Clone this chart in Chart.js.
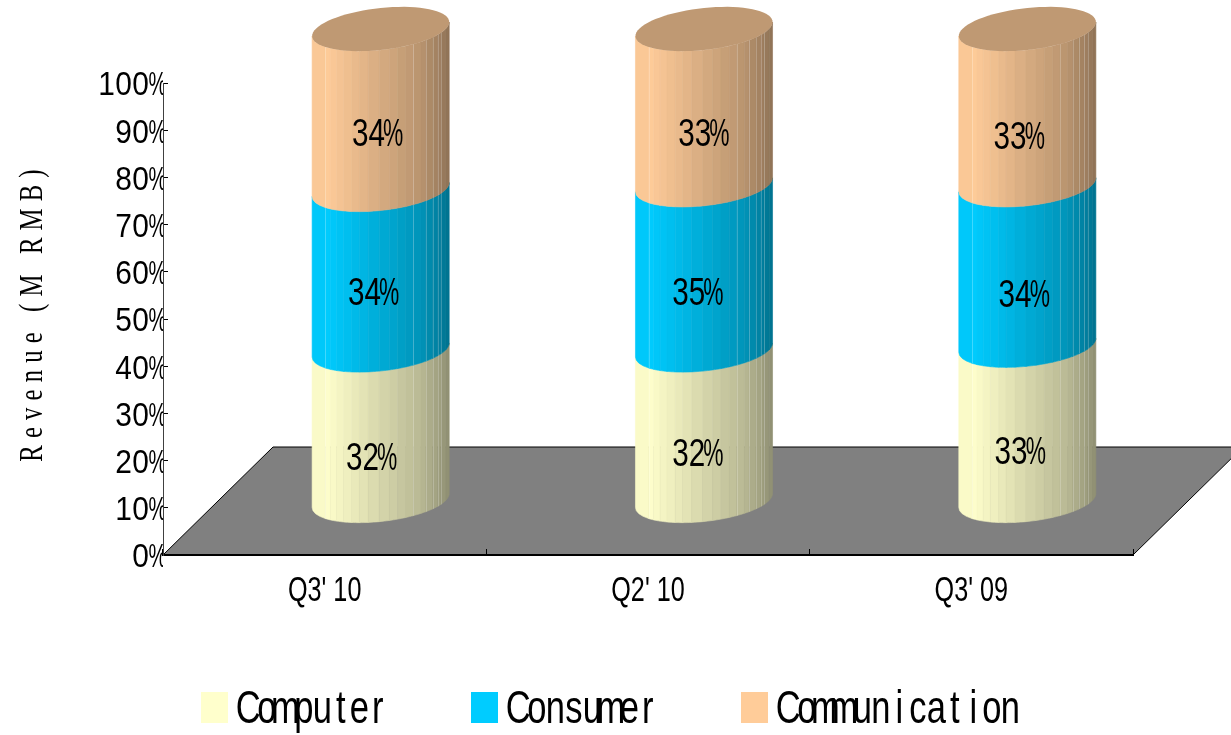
<!DOCTYPE html>
<html>
<head>
<meta charset="utf-8">
<title>Revenue by application</title>
<script src="https://cdn.jsdelivr.net/npm/chart.js@4"></script>
<style>
html, body { margin: 0; padding: 0; background: #fff; overflow: hidden; }
canvas { display: block; }
</style>
</head>
<body>
<canvas id="revenueChart" width="1231" height="735"></canvas>
<script>
// Chart values
const categories = ["Q3' 10", "Q2' 10", "Q3' 09"];
const computer = [32, 32, 33];
const consumer = [34, 35, 34];
const communication = [34, 33, 33];
const yTicks = [0, 10, 20, 30, 40, 50, 60, 70, 80, 90, 100];

// 3D look of the plot
const DEPTH_X = 110;
const DEPTH_Y = 108;
const SHIFT_X = 56;
const ELLIPSE_B = 21;
const ELLIPSE_SKEW = 7;
const STRIP_EDGES = [0, 0.097, 0.133, 0.18, 0.23, 0.29, 0.345, 0.41, 0.49, 0.563, 0.624, 0.684, 0.738, 0.794, 0.83, 0.879, 0.915, 0.939, 0.976, 1];
const SEAMS = [0.097, 0.738, 0.83, 0.879, 0.915, 0.939];
const LABEL_NUDGE = [[-10, 34], [-8, 25], [-4, 26], [-7, 30], [-7, 27], [-1, 29], [-8, 31], [-4, 32], [-9, 32]];

// Text settings by font size: horizontal squeeze, fixed cell width, vertical shift
const FONT = '"Liberation Sans"';
const TEXT_STYLES = {
    46: { squash: 0.75, cell: 18.5, dy: 2 },
    38: { squash: 0.78, cell: 16.5, dy: 0 },
    34: { squash: 0.88, cell: 17, dy: 3 },
    35: { squash: 0.72, dy: -3 }
};
const PERCENT_SQUASH = 0.6;

const canvas = document.getElementById('revenueChart');
const ctx = canvas.getContext('2d');

function styleNow() {
    const size = parseFloat(ctx.font.match(/([\d.]+)px/)[1]);
    return TEXT_STYLES[size] || { squash: 1 };
}

// The original font is a narrow one with fixed width cells, so the letters overlap or leave gaps
const rawFillText = ctx.fillText.bind(ctx);
const rawMeasureText = ctx.measureText.bind(ctx);
ctx.fillText = function(text, x, y) {
    const style = styleNow();
    text = String(text);
    ctx.save();
    ctx.translate(x, y + (style.dy || 0));
    if (ctx.font.includes('Serif')) {
        // rotated axis title
        ctx.translate(7, 0);
        ctx.scale(0.75, 1);
        ctx.letterSpacing = '9.5px';
        rawFillText(text, 0, 0);
    } else if (style.cell) {
        const total = text.length * style.cell;
        let left = 0;
        if (ctx.textAlign === 'right') left = -total;
        if (ctx.textAlign === 'center') left = -total / 2;
        ctx.textAlign = 'center';
        for (let i = 0; i < text.length; i++) {
            ctx.save();
            ctx.translate(left + (i + 0.5) * style.cell, 0);
            ctx.scale(text[i] === '%' ? PERCENT_SQUASH : style.squash, 1);
            rawFillText(text[i], 0, 0);
            ctx.restore();
        }
    } else {
        ctx.scale(style.squash, 1);
        rawFillText(text, 0, 0);
    }
    ctx.restore();
};
ctx.measureText = function(text) {
    const style = styleNow();
    if (style.cell) return { width: String(text).length * style.cell };
    return { width: rawMeasureText(text).width * style.squash };
};

function shade(hex, k) {
    const n = parseInt(hex.slice(1), 16);
    const r = Math.round(((n >> 16) & 255) * k);
    const g = Math.round(((n >> 8) & 255) * k);
    const b = Math.round((n & 255) * k);
    return `rgb(${r},${g},${b})`;
}

// Light comes from the left, u goes from 0 (left edge) to 1 (right edge)
function brightness(u) {
    if (u < 0.1) return 0.96 + 0.4 * u;
    if (u < 0.8) return 1 - (u - 0.1) * 0.4;
    return 0.72 - (u - 0.8) * 0.8;
}

function ellipsePoint(cx, cy, a, t) {
    return [cx + a * Math.cos(t), cy - ELLIPSE_SKEW * Math.cos(t) + ELLIPSE_B * Math.sin(t)];
}

function angleOf(u) {
    return Math.acos(1 - 2 * u);
}

function drawSegment(c, bar, color) {
    const cx = bar.x + SHIFT_X;
    const a = bar.width / 2;
    const topY = bar.y - DEPTH_Y / 2;
    const bottomY = bar.base - DEPTH_Y / 2;
    for (let i = 0; i < STRIP_EDGES.length - 1; i++) {
        // u runs left to right, the ellipse angle runs from PI to 0
        const t1 = Math.PI - angleOf(STRIP_EDGES[i]);
        const t2 = Math.PI - angleOf(STRIP_EDGES[i + 1]);
        const u = (STRIP_EDGES[i] + STRIP_EDGES[i + 1]) / 2;
        c.fillStyle = c.strokeStyle = shade(color, brightness(u));
        c.lineWidth = 0.6;
        c.beginPath();
        for (let s = 0; s <= 4; s++) {
            const p = ellipsePoint(cx, topY, a, t1 + (t2 - t1) * s / 4);
            if (s === 0) c.moveTo(p[0], p[1]); else c.lineTo(p[0], p[1]);
        }
        for (let s = 4; s >= 0; s--) {
            const p = ellipsePoint(cx, bottomY, a, t1 + (t2 - t1) * s / 4);
            c.lineTo(p[0], p[1]);
        }
        c.closePath();
        c.fill();
        c.stroke();
    }
    // thin pale lines left between the strips
    c.strokeStyle = 'rgba(255,255,255,0.22)';
    c.lineWidth = 1;
    SEAMS.forEach(function(u) {
        const t = Math.PI - angleOf(u);
        const p1 = ellipsePoint(cx, topY, a, t);
        const p2 = ellipsePoint(cx, bottomY, a, t);
        const x = Math.round(p1[0]) + 0.5;
        c.beginPath();
        c.moveTo(x, p1[1]);
        c.lineTo(x, p2[1]);
        c.stroke();
    });
}

function drawCap(c, bar, color) {
    const cx = bar.x + SHIFT_X;
    const a = bar.width / 2;
    const topY = bar.y - DEPTH_Y / 2;
    c.fillStyle = shade(color, 0.75);
    c.beginPath();
    for (let i = 0; i <= 72; i++) {
        const p = ellipsePoint(cx, topY, a, Math.PI * 2 * i / 72);
        if (i === 0) c.moveTo(p[0], p[1]); else c.lineTo(p[0], p[1]);
    }
    c.closePath();
    c.fill();
}

const cylinderPlugin = {
    id: 'cylinders',
    // gray floor under the axes
    beforeDraw(chart) {
        const c = chart.ctx;
        const area = chart.chartArea;
        c.save();
        c.fillStyle = '#808080';
        c.strokeStyle = '#000';
        c.lineWidth = 1;
        c.beginPath();
        c.moveTo(area.left, area.bottom);
        c.lineTo(area.right, area.bottom);
        c.lineTo(area.right + DEPTH_X, area.bottom - DEPTH_Y);
        c.lineTo(area.left + DEPTH_X, area.bottom - DEPTH_Y);
        c.closePath();
        c.fill();
        c.stroke();
        c.restore();
    },
    // the plain bars are replaced by the cylinders below
    beforeDatasetDraw() {
        return false;
    },
    afterDatasetsDraw(chart) {
        const c = chart.ctx;
        const count = chart.data.datasets.length;
        c.save();
        categories.forEach(function(cat, i) {
            chart.data.datasets.forEach(function(ds, d) {
                drawSegment(c, chart.getDatasetMeta(d).data[i], ds.backgroundColor);
            });
            drawCap(c, chart.getDatasetMeta(count - 1).data[i], chart.data.datasets[count - 1].backgroundColor);
        });
        // percentage labels, on the front of each cylinder
        c.fillStyle = '#000';
        c.font = '38px ' + FONT;
        c.textAlign = 'center';
        c.textBaseline = 'middle';
        chart.data.datasets.forEach(function(ds, d) {
            const meta = chart.getDatasetMeta(d);
            ds.data.forEach(function(v, i) {
                const bar = meta.data[i];
                const nudge = LABEL_NUDGE[i * count + d];
                c.fillText(v + '%', bar.x + SHIFT_X + nudge[0], (bar.y + bar.base - DEPTH_Y) / 2 + nudge[1]);
            });
        });
        // legend
        let x = 201;
        c.font = '46px ' + FONT;
        c.textAlign = 'left';
        chart.data.datasets.forEach(function(ds) {
            c.fillStyle = ds.backgroundColor;
            c.fillRect(x, 692, 27, 31);
            c.fillStyle = '#000';
            c.fillText(ds.label, x + 38, 708);
            x += 38 + c.measureText(ds.label).width + 84;
        });
        c.restore();
    }
};

new Chart(ctx, {
    type: 'bar',
    data: {
        labels: categories,
        datasets: [
            { label: 'Computer', data: computer, backgroundColor: '#FFFFCC' },
            { label: 'Consumer', data: consumer, backgroundColor: '#00CCFF' },
            { label: 'Communication', data: communication, backgroundColor: '#FFCC99' }
        ]
    },
    options: {
        responsive: false,
        animation: false,
        devicePixelRatio: 1,
        categoryPercentage: 1,
        barPercentage: 0.424,
        layout: { padding: { top: 83, right: 98 } },
        plugins: {
            legend: { display: false },
            tooltip: { enabled: false }
        },
        scales: {
            x: {
                stacked: true,
                afterFit: function(scale) { scale.height = 180; },
                border: { color: '#000', width: 2 },
                grid: { drawOnChartArea: false, tickLength: -6, tickColor: '#000' },
                ticks: {
                    color: '#000',
                    padding: 24,
                    maxRotation: 0,
                    font: { family: 'Liberation Sans', size: 35 }
                }
            },
            y: {
                stacked: true,
                min: 0,
                max: 100,
                afterBuildTicks: function(scale) {
                    scale.ticks = yTicks.map(function(v) { return { value: v }; });
                },
                afterFit: function(scale) { scale.width = 163; },
                border: { color: '#404040', width: 1 },
                grid: { drawOnChartArea: false, tickLength: -5, tickColor: '#000' },
                ticks: {
                    color: '#000',
                    padding: 2,
                    font: { family: 'Liberation Sans', size: 34 },
                    callback: function(value) { return value + '%'; }
                },
                title: {
                    display: true,
                    text: 'Revenue (M RMB)',
                    color: '#000',
                    padding: { top: 14, bottom: 0 },
                    font: { family: 'Liberation Serif', size: 33 }
                }
            }
        }
    },
    plugins: [cylinderPlugin]
});
</script>
</body>
</html>
